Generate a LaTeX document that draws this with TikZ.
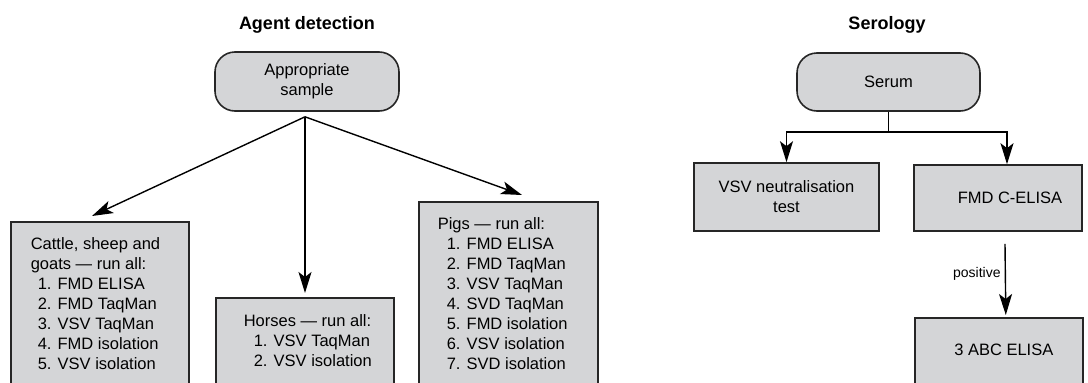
\documentclass[tikz,border=0pt]{standalone}
\usepackage{fontspec}
\setmainfont{Liberation Sans}
\usetikzlibrary{arrows.meta,calc}
\definecolor{boxfill}{RGB}{212,213,215}
\definecolor{boxline}{RGB}{38,38,38}
\newcommand{\topbox}[5]{\parbox[c][#2][t]{#1}{\raggedright\leftskip=#3\relax\vspace*{#4}#5}}
\tikzset{
  body/.style={font=\fontsize{16.5}{20}\selectfont},
  title/.style={font=\fontsize{18}{22}\selectfont\bfseries, anchor=base, inner sep=0},
  rbox/.style={body, draw=boxline, fill=boxfill, line width=1.6pt, rounded corners=20pt, align=center, inner sep=0},
  sqbox/.style={body, draw=boxline, fill=boxfill, line width=1.6pt, inner sep=0},
  conn/.style={line width=1.4pt, black},
  arr/.style={conn, -{Stealth[length=21pt, width=13pt, inset=5pt]}},
}
\begin{document}
\begin{tikzpicture}[x=1pt,y=-1pt]
\useasboundingbox (0,0) rectangle (1088,383);
\clip (0,0) rectangle (1088,383);

% titles
\node[title] (t1) at (307,29) {Agent detection};
\node[title] (t2) at (887,29) {Serology};

% agent detection
\node[rbox, minimum width=184pt, minimum height=59pt] (sample) at (307,81.5) {Appropriate\\sample};

\node[sqbox, anchor=north west] (cattle) at (10,221)
  {\topbox{178pt}{200pt}{20pt}{16pt}{Cattle, sheep and\\goats --- run all:\\
   \hspace*{7pt}1. FMD ELISA\\
   \hspace*{7pt}2. FMD TaqMan\\
   \hspace*{7pt}3. VSV TaqMan\\
   \hspace*{7pt}4. FMD isolation\\
   \hspace*{7pt}5. VSV isolation}};

\node[sqbox, anchor=north west] (horses) at (215,297)
  {\topbox{178pt}{120pt}{28pt}{17pt}{Horses --- run all:\\
   \hspace*{10pt}1. VSV TaqMan\\
   \hspace*{10pt}2. VSV isolation}};

\node[sqbox, anchor=north west] (pigs) at (418,201)
  {\topbox{179pt}{200pt}{19pt}{16pt}{Pigs --- run all:\\
   \hspace*{9pt}1. FMD ELISA\\
   \hspace*{9pt}2. FMD TaqMan\\
   \hspace*{9pt}3. VSV TaqMan\\
   \hspace*{9pt}4. SVD TaqMan\\
   \hspace*{9pt}5. FMD isolation\\
   \hspace*{9pt}6. VSV isolation\\
   \hspace*{9pt}7. SVD isolation}};

\coordinate (split) at ($(sample.south)+(-2,5)$);
\draw[arr] (split) -- ($(cattle.north west)+(82,-5)$);
\draw[arr] (split) -- ($(horses.north west)+(90,-4)$);
\draw[arr] (split) -- ($(pigs.north west)+(104,-6)$);

% serology
\node[rbox, minimum width=183pt, minimum height=58pt] (serum) at (888.5,82) {Serum};
\node[sqbox, minimum width=185pt, minimum height=68pt, align=center] (vsv) at (786.5,197) {VSV neutralisation\\test};
\node[sqbox, minimum width=168pt, minimum height=66pt] (fmd) at (998,198) {\hspace*{24pt}FMD C-ELISA};
\node[sqbox, anchor=north west] (abc) at (914,317)
  {\parbox[c][80pt][t]{168pt}{\centering\vspace*{26pt}\hspace*{10pt}3 ABC ELISA}};

\coordinate (sj) at ($(serum.south)+(0,20)$);
\draw[conn] (serum.south) -- (sj);
\draw[arr] (sj) -| (vsv.north);
\draw[arr] (sj) -| ($(fmd.north)+(9,0)$);
\draw[arr] ($(fmd.south)+(7,12)$) -- node[pos=0.42, left, inner sep=4pt, font=\fontsize{14}{16}\selectfont] (pos) {positive} ($(abc.north)+(7,-2)$);
\end{tikzpicture}
\end{document}
